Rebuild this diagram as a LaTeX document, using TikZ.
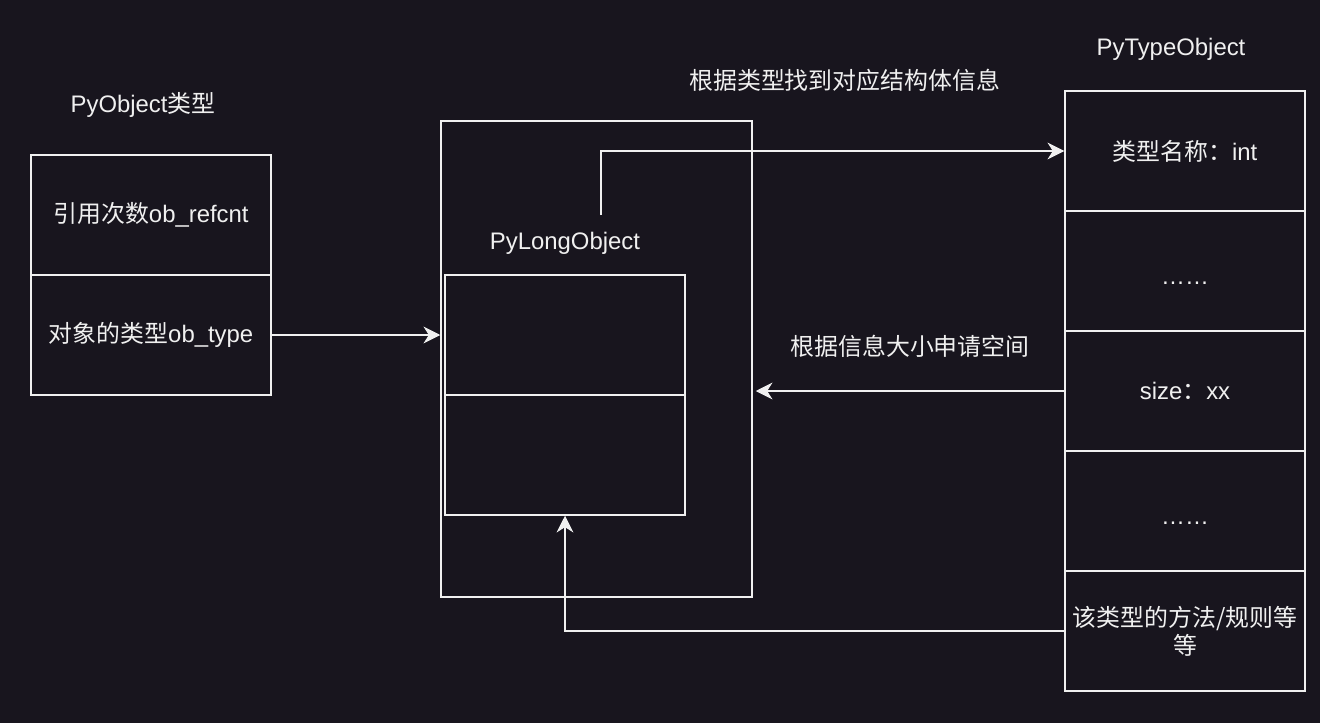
\documentclass[tikz,border=0pt]{standalone}
\usepackage{fontspec}
\setmainfont{Liberation Sans}
\newfontfamily\cjk{Noto Sans CJK SC}
\usetikzlibrary{positioning}
\usetikzlibrary{calc}
\usetikzlibrary{arrows.meta}

\definecolor{bgdark}{RGB}{24,21,30}
\definecolor{fgwhite}{RGB}{240,240,240}

\begin{document}
\begin{tikzpicture}[
  font=\fontsize{13.6}{17}\selectfont,
  cell/.style={draw=fgwhite, line width=0.85pt, fill=bgdark, text=fgwhite,
    minimum width=4.8cm, minimum height=2.4cm, inner sep=0pt, align=center},
  lbl/.style={text=fgwhite, inner sep=0pt},
  arr/.style={draw=fgwhite, line width=0.85pt,
    -{Stealth[length=9.5pt,width=9.5pt,inset=3pt]}}
]
\newcommand{\RowGap}{2.4}
\newcommand{\Dots}{\raisebox{-7.5pt}[0pt][0pt]{……}}
\fill[bgdark] (0,0) rectangle (26.4,-14.46);
\useasboundingbox (0,0) rectangle (26.4,-14.46);

% PyObject
\node[lbl] (objtitle) at (2.86,-2.1) {PyObject{\cjk 类型}};
\node[cell] (o1) at (3.02,-4.3) {{\cjk 引用次数}ob\_refcnt};
\node[cell] (o2) at (3.02,-4.3-\RowGap) {{\cjk 对象的类型}ob\_type};

% PyLongObject
\node[draw=fgwhite, line width=0.85pt, minimum width=6.22cm, minimum height=9.52cm,
  inner sep=0pt] (outer) at (11.93,-7.18) {};
\node[lbl] (longtitle) at (11.3,-4.86) {PyLongObject};
\node[cell] (l1) at (11.3,-6.7) {};
\node[cell] (l2) at (11.3,-6.7-\RowGap) {};
\coordinate (src) at (12.02,-4.3);

% PyTypeObject
\node[lbl] (typetitle) at (23.42,-0.98) {PyTypeObject};
\node[cell] (t1) at (23.7,-3.02) {{\cjk 类型名称：}int};
\node[cell] (t2) at (23.7,-3.02-\RowGap) {\Dots};
\node[cell] (t3) at (23.7,-3.02-2*\RowGap) {size{\cjk ：}xx};
\node[cell] (t4) at (23.7,-3.02-3*\RowGap) {\Dots};
\node[cell] (t5) at (23.7,-3.02-4*\RowGap) {{\cjk 该类型的方法/规则等}\\[-1pt]{\cjk 等}};

% connectors
\path[arr] (src) |- (t1.west) node[pos=0.763, lbl, above=1.17cm] {\cjk 根据类型找到对应结构体信息};
\path[arr] (o2.east) -- (o2.east -| outer.west);
\path[arr] (t3.west) -- ($(t3.west -| outer.east)+(0.06,0)$) node[midway, lbl, above=0.66cm] {\cjk 根据信息大小申请空间};
\path[arr] (t5.west) -| (l2.south);
\end{tikzpicture}
\end{document}
